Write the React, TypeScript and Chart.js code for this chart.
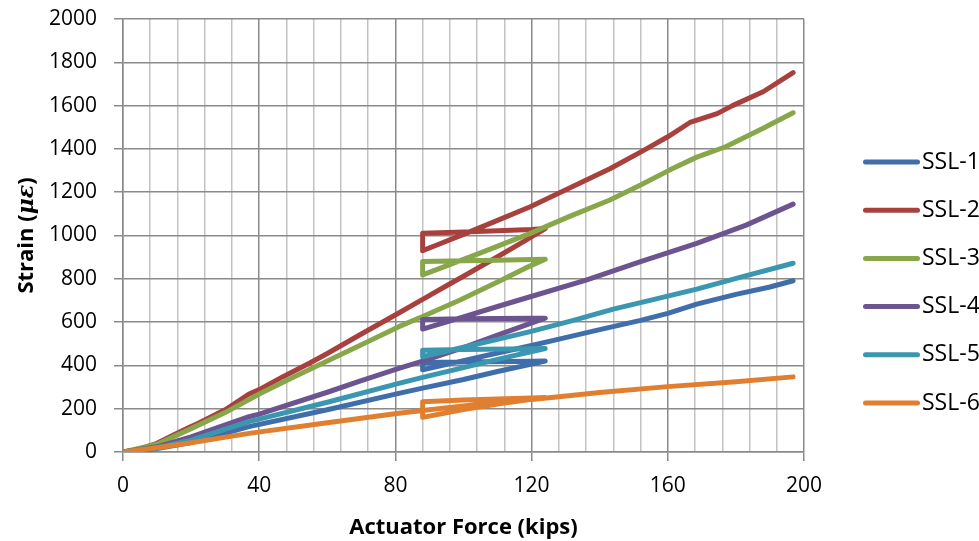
import React, { useEffect, useRef } from 'react';
import { Chart, registerables } from 'chart.js';

Chart.register(...registerables);

// ---- Data ----
const seriesNames = ['SSL-1', 'SSL-2', 'SSL-3', 'SSL-4', 'SSL-5', 'SSL-6'];
const seriesColors = ['#3f6eaa', '#a8413d', '#88a64a', '#6c5490', '#3b97b0', '#e07f2f'];

const ssl1Force = [0, 10, 20, 37, 60, 81, 88, 100, 110, 124, 120, 100, 88, 88, 100, 110, 120, 129, 140, 152, 160, 168.5, 180, 190, 196.8];
const ssl1Strain = [0, 16, 44, 117, 195, 271, 295, 335, 372, 420, 419, 416, 413, 380, 422, 457, 492, 525, 565, 608, 640, 683, 728, 762, 791];

const ssl2Force = [0, 5, 10, 15, 20, 22, 30, 37, 40, 47, 55, 60, 70, 81, 88, 95, 100, 110, 118, 124, 120, 110, 100, 88, 88, 92, 100, 110, 119.6, 131, 143, 152, 160, 166.5, 174.5, 179, 188, 196.8];
const ssl2Strain = [0, 14, 40, 80, 118, 132, 195, 268, 288, 348, 412, 455, 545, 642, 705, 768, 812, 902, 975, 1032, 1028, 1022, 1016, 1010, 930, 955, 1005, 1070, 1133, 1218, 1308, 1385, 1456, 1522, 1563, 1600, 1664, 1752];

const ssl3Force = [0, 10, 20, 30, 40, 50, 60, 70, 81, 88, 99, 110, 118, 124, 120, 110, 100, 88, 88, 95, 105, 119.6, 131, 143, 152, 160.5, 168.5, 177, 188, 196.8];
const ssl3Strain = [0, 36, 108, 182, 268, 345, 420, 495, 579, 626, 702, 785, 848, 890, 889, 886, 883, 880, 818, 860, 920, 1010, 1087, 1164, 1233, 1302, 1362, 1410, 1495, 1567];

const ssl4Force = [0, 10, 20, 37, 40, 60, 70, 81, 88, 100, 110, 124, 120, 100, 88, 88, 100, 110, 119.6, 136, 152, 168.5, 183, 196.8];
const ssl4Strain = [0, 24, 70, 163, 175, 276, 330, 386, 420, 482, 540, 618, 618, 615, 612, 568, 624, 672, 717, 794, 879, 964, 1048, 1145];

const ssl5Force = [0, 10, 20, 37, 60, 81, 88, 100, 110, 124, 120, 100, 88, 88, 100, 110, 119.6, 132, 144, 156, 168.5, 182, 196.8];
const ssl5Strain = [0, 20, 55, 140, 230, 317, 345, 390, 428, 478, 477, 473, 470, 440, 484, 520, 556, 607, 660, 705, 752, 810, 872];

const ssl6Force = [0, 10, 20, 37, 60, 81, 88, 100, 110, 124, 120, 100, 88, 88, 100, 110, 120, 128, 140, 160, 180, 196.8];
const ssl6Strain = [0, 20, 43, 86, 135, 179, 192, 213, 230, 252, 250, 240, 232, 160, 196, 222, 243, 255, 275, 302, 325, 347];

const seriesForces = [ssl1Force, ssl2Force, ssl3Force, ssl4Force, ssl5Force, ssl6Force];
const seriesStrains = [ssl1Strain, ssl2Strain, ssl3Strain, ssl4Strain, ssl5Strain, ssl6Strain];

const xTickValues = [0, 8, 16, 24, 32, 40, 48, 56, 64, 72, 80, 88, 96, 104, 112, 120, 128, 136, 144, 152, 160, 168, 176, 184, 192, 200];
const xLabelStep = 40;
const yTickValues = [0, 200, 400, 600, 800, 1000, 1200, 1400, 1600, 1800, 2000];

const xTitle = 'Actuator Force (kips)';
const yTitleParts = ['Strain (', 'με', ')'];

const FONT = '"Open Sans", Lato, sans-serif';
const MAJOR = '#8a8a8a';
const MINOR = '#c3c3c3';

const sideLegend = {
  id: 'sideLegend',
  afterDraw(chart: any) {
    const ctx = chart.ctx;
    ctx.save();
    chart.data.datasets.forEach((ds: any, i: number) => {
      const y = 162 + i * 48.2;
      ctx.strokeStyle = ds.borderColor;
      ctx.lineWidth = 5;
      ctx.lineCap = 'round';
      ctx.beginPath();
      ctx.moveTo(865.5, y);
      ctx.lineTo(917.5, y);
      ctx.stroke();
      ctx.fillStyle = '#000';
      ctx.font = '23px ' + FONT;
      ctx.textAlign = 'left';
      ctx.textBaseline = 'middle';
      ctx.fillText(ds.label, 922, y);
    });
    ctx.restore();
  },
};

const yTitle = {
  id: 'yTitle',
  afterDraw(chart: any) {
    const ctx = chart.ctx;
    const fonts = ['bold 22px ' + FONT, 'italic bold 22px "DejaVu Serif", serif', 'bold 22px ' + FONT];
    ctx.save();
    const widths = yTitleParts.map((t, i) => {
      ctx.font = fonts[i];
      return ctx.measureText(t).width;
    });
    const total = widths.reduce((a, b) => a + b, 0);
    const cy = (chart.chartArea.top + chart.chartArea.bottom) / 2;
    ctx.translate(27, cy);
    ctx.rotate(-Math.PI / 2);
    ctx.fillStyle = '#000';
    ctx.textAlign = 'left';
    ctx.textBaseline = 'middle';
    let x = -total / 2;
    yTitleParts.forEach((t, i) => {
      ctx.font = fonts[i];
      ctx.fillText(t, x, 0);
      x += widths[i];
    });
    ctx.restore();
  },
};

export default function App() {
  const canvasRef = useRef<HTMLCanvasElement | null>(null);

  useEffect(() => {
    document.body.style.margin = '0';
    const canvas = canvasRef.current;
    if (!canvas) return;

    const datasets = seriesNames.map((name, i) => ({
      label: name,
      data: seriesForces[i].map((f, j) => ({ x: f, y: seriesStrains[i][j] })),
      borderColor: seriesColors[i],
      backgroundColor: seriesColors[i],
      borderWidth: 5,
      pointRadius: 0,
      pointHoverRadius: 0,
      showLine: true,
      tension: 0,
      borderJoinStyle: 'round' as const,
      borderCapStyle: 'round' as const,
      order: seriesNames.length - 1 - i,
    }));

    const chart = new Chart(canvas, {
      type: 'scatter',
      data: { datasets },
      options: {
        animation: false,
        responsive: false,
        devicePixelRatio: 1,
        layout: { padding: { left: 0, top: 19, right: 175, bottom: 0 } },
        plugins: {
          legend: { display: false },
          tooltip: { enabled: false },
        },
        scales: {
          x: {
            type: 'linear',
            min: 0,
            max: 200,
            afterBuildTicks: (scale: any) => {
              scale.ticks = xTickValues.map((v) => ({ value: v }));
            },
            afterFit: (scale: any) => {
              scale.height = 89;
              scale.paddingLeft = 0;
              scale.paddingRight = 0;
            },
            ticks: {
              autoSkip: false,
              maxRotation: 0,
              padding: 12,
              color: '#000',
              font: { family: FONT, size: 21 },
              callback: (v: any) => (Number(v) % xLabelStep === 0 ? String(v) : ''),
            },
            grid: {
              color: (c: any) => (c.tick && c.tick.value % xLabelStep === 0 ? MAJOR : MINOR),
              lineWidth: 1.5,
              tickLength: 9,
              tickColor: (c: any) => (c.tick && c.tick.value % xLabelStep === 0 ? MAJOR : 'rgba(0,0,0,0)'),
            },
            border: { color: MAJOR, width: 1.5 },
            title: {
              display: true,
              text: xTitle,
              color: '#000',
              font: { family: FONT, size: 22, weight: 'bold' },
              padding: { top: 0, bottom: 0 },
            },
          },
          y: {
            type: 'linear',
            min: 0,
            max: 2000,
            afterBuildTicks: (scale: any) => {
              scale.ticks = yTickValues.map((v) => ({ value: v }));
            },
            afterFit: (scale: any) => {
              scale.width = 123;
              scale.paddingTop = 0;
              scale.paddingBottom = 0;
            },
            ticks: {
              padding: 17,
              color: '#000',
              font: { family: FONT, size: 21 },
              callback: (v: any) => String(v),
            },
            grid: {
              color: MAJOR,
              lineWidth: 1.5,
              tickLength: 9,
              tickColor: MAJOR,
            },
            border: { color: MAJOR, width: 1.5 },
          },
        },
      },
      plugins: [sideLegend, yTitle],
    });

    return () => chart.destroy();
  }, []);

  return (
    <div style={{ width: 979, height: 541, position: 'relative', background: '#fff' }}>
      <canvas ref={canvasRef} width={979} height={541} />
    </div>
  );
}
